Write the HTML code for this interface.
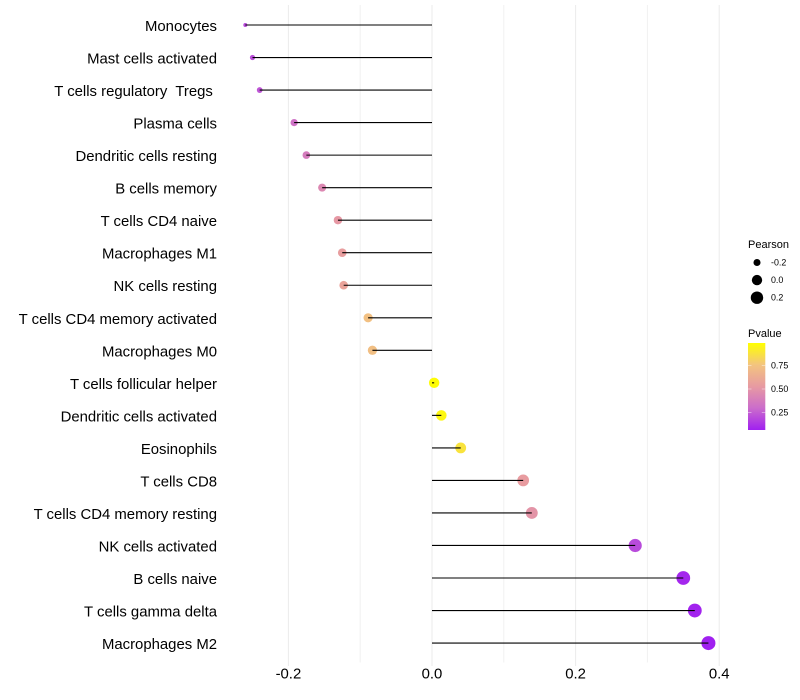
<!DOCTYPE html>
<html>
<head>
<meta charset="utf-8">
<title>Lollipop chart</title>
<style>
html,body{margin:0;padding:0;background:#fff;}
svg{display:block;}
text{font-family:"Liberation Sans",sans-serif;fill:#000;white-space:pre;}
</style>
</head>
<body>
<svg id="chart" width="800" height="700" viewBox="0 0 800 700" xmlns="http://www.w3.org/2000/svg">
<defs>
<linearGradient id="pvalue-gradient" x1="0" y1="1" x2="0" y2="0">
<stop offset="0" stop-color="#a020f0"/>
<stop offset="0.25" stop-color="#cb6ccb"/>
<stop offset="0.5" stop-color="#e79aa2"/>
<stop offset="0.75" stop-color="#f3c47f"/>
<stop offset="1" stop-color="#ffff00"/>
</linearGradient>
</defs>
<g id="grid"></g>
<g id="points"></g>
<g id="stems"></g>
<g id="ylabels"></g>
<g id="xlabels"></g>
<g>
<text x="748" y="248" font-size="11">Pearson</text>
<g id="sizeLegend"></g>
</g>
<g>
<text x="748" y="337" font-size="11">Pvalue</text>
<rect x="748" y="343" width="17.3" height="87" fill="url(#pvalue-gradient)"/>
<g id="colorLegend"></g>
</g>
</svg>
<script>
const categories = ["Monocytes","Mast cells activated","T cells regulatory  Tregs ","Plasma cells","Dendritic cells resting","B cells memory","T cells CD4 naive","Macrophages M1","NK cells resting","T cells CD4 memory activated","Macrophages M0","T cells follicular helper","Dendritic cells activated","Eosinophils","T cells CD8","T cells CD4 memory resting","NK cells activated","B cells naive","T cells gamma delta","Macrophages M2"];
const pearson = [-0.26,-0.25,-0.24,-0.192,-0.175,-0.153,-0.131,-0.125,-0.123,-0.089,-0.083,0.003,0.013,0.04,0.127,0.139,0.283,0.35,0.366,0.385];
const pvalue = [0.2,0.21,0.23,0.33,0.38,0.44,0.52,0.55,0.58,0.74,0.73,0.98,0.96,0.88,0.54,0.5,0.2,0.09,0.08,0.07];
const xTicks = [-0.2,0,0.2,0.4];
const xMinorTicks = [-0.1,0.1,0.3];
const sizeLegendValues = [-0.2,0,0.2];
const colorLegendValues = [0.25,0.5,0.75];

const svgNS = "http://www.w3.org/2000/svg";
function xScale(v){ return 432 + v * 718; }
function yScale(i){ return 25 + i * 32.53; }
function rScale(v){
  const t = Math.max(0, (v + 0.26) / 0.645);
  return 2 + 5 * Math.sqrt(t);
}
function legendY(p){ return 389 - (p - 0.5) * 94; }
const stopsT = [0,0.25,0.5,0.75,1];
const stopsC = [[160,32,240],[203,108,203],[231,154,162],[243,196,127],[255,255,0]];
function colorScale(p){
  let t = (p - 0.07) / 0.92;
  t = Math.min(1, Math.max(0, t));
  let k = 0;
  while (k < 3 && t > stopsT[k + 1]) k++;
  const f = (t - stopsT[k]) / 0.25;
  const c = stopsC[k].map((a, j) => Math.round(a + (stopsC[k + 1][j] - a) * f));
  return "rgb(" + c.join(",") + ")";
}
function make(tag, attrs, parent){
  const el = document.createElementNS(svgNS, tag);
  for (const k in attrs) el.setAttribute(k, attrs[k]);
  parent.appendChild(el);
  return el;
}
function fmt(v){ return v.toFixed(1); }

const grid = document.getElementById("grid");
xMinorTicks.forEach(v => {
  const el = make("line", {x1:xScale(v), x2:xScale(v), y1:5, y2:662.5, stroke:"#f1f1f1", "stroke-width":1}, grid);
  
  
});
xTicks.forEach(v => {
  const el = make("line", {x1:xScale(v), x2:xScale(v), y1:5, y2:666, stroke:"#ebebeb", "stroke-width":1}, grid);
  
  
});

const points = document.getElementById("points");
const stems = document.getElementById("stems");
const ylabels = document.getElementById("ylabels");
categories.forEach((name, i) => {
  const y = yScale(i);
  const px = xScale(pearson[i]);
  const c = make("circle", {cx:px, cy:y, r:rScale(pearson[i]), fill:colorScale(pvalue[i])}, points);
  
  
  const s = make("line", {x1:xScale(0), x2:px, y1:y, y2:y, stroke:"#000", "stroke-width":1.1}, stems);
  
  
  const t = make("text", {x:217, y:y + 6, "text-anchor":"end", "font-size":14.9}, ylabels);
  t.textContent = name;
  
  
});

const xlabels = document.getElementById("xlabels");
xTicks.forEach(v => {
  const t = make("text", {x:xScale(v), y:678.5, "text-anchor":"middle", "font-size":14.9}, xlabels);
  t.textContent = fmt(v);
  
  
});

const sizeLegend = document.getElementById("sizeLegend");
sizeLegendValues.forEach((v, i) => {
  const y = 262.5 + i * 17.6;
  const c = make("circle", {cx:757, cy:y, r:rScale(v), fill:"#000"}, sizeLegend);
  
  
  const t = make("text", {x:771, y:y + 3, "font-size":8.9}, sizeLegend);
  t.textContent = fmt(v);
  
  
});

const colorLegend = document.getElementById("colorLegend");
colorLegendValues.forEach(v => {
  const y = legendY(v);
  const a = make("line", {x1:748, x2:751.5, y1:y, y2:y, stroke:"#fff", "stroke-width":0.6, "stroke-opacity":0.7}, colorLegend);
  
  
  const b = make("line", {x1:761.8, x2:765.3, y1:y, y2:y, stroke:"#fff", "stroke-width":0.6, "stroke-opacity":0.7}, colorLegend);
  
  
  const t = make("text", {x:771, y:y + 3, "font-size":8.9}, colorLegend);
  t.textContent = v.toFixed(2);
  
  
});
</script>
</body>
</html>
